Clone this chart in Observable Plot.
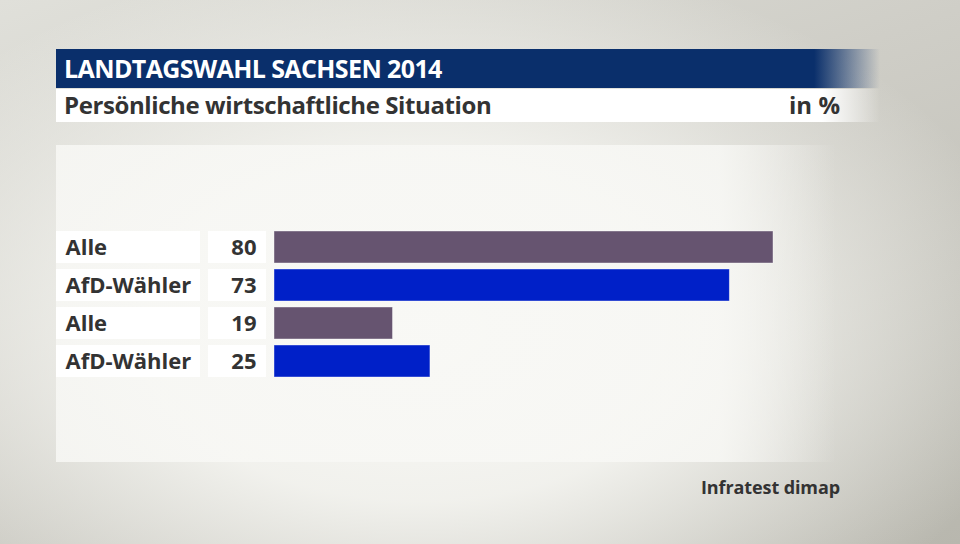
<!DOCTYPE html>
<html><head><meta charset="utf-8">
<script src="https://cdn.jsdelivr.net/npm/d3@7"></script>
<script src="https://cdn.jsdelivr.net/npm/@observablehq/plot@0.6"></script>
<style>
html,body{margin:0;padding:0;}
body{width:960px;height:544px;overflow:hidden;position:relative;font-family:"Open Sans",sans-serif;
background:
 radial-gradient(ellipse 620px 380px at 420px 330px, rgba(250,250,247,1) 0%, rgba(246,246,242,0.9) 45%, rgba(230,230,224,0) 100%),
 linear-gradient(160deg,#e0e0da 0%,#cfcec7 40%,#b8b7ae 100%);}
#panel{position:absolute;left:56px;top:145px;width:780px;height:317px;
background:linear-gradient(90deg,rgba(248,248,245,0.85) 0%,rgba(248,248,245,0.85) 85%,rgba(248,248,245,0) 100%);}
#titlebar{position:absolute;left:56px;top:49px;width:824px;height:39px;
background:linear-gradient(90deg,#0a2f6b 0%,#0a2f6b 92%,rgba(10,47,107,0) 100%);}
#title{position:absolute;left:64px;top:51px;color:#fff;font-weight:700;font-size:25px;letter-spacing:-0.6px;line-height:34px;}
#subbar{position:absolute;left:56px;top:89px;width:824px;height:33px;
background:linear-gradient(90deg,#fff 0%,#fff 93%,rgba(255,255,255,0) 100%);}
#sub{position:absolute;left:64px;top:88px;color:#333;font-weight:700;font-size:24px;letter-spacing:-0.4px;line-height:33px;}
#unit{position:absolute;right:120px;top:88px;color:#333;font-weight:700;font-size:24px;line-height:33px;}
#caption{position:absolute;right:120px;top:475px;color:#333;font-weight:700;font-size:18px;letter-spacing:-0.1px;}
#chart{position:absolute;left:0;top:0;}
</style></head>
<body>
<div id="panel"></div>
<div id="titlebar"></div><div id="title">LANDTAGSWAHL SACHSEN 2014</div>
<div id="subbar"></div><div id="sub">Persönliche wirtschaftliche Situation</div><div id="unit">in %</div>
<div id="caption">Infratest dimap</div>
<div id="chart"></div>
<script>
const labels = ["Alle", "AfD-Wähler", "Alle", "AfD-Wähler"];
const values = [80, 73, 19, 25];
const colors = ["#665470", "#0020c8", "#665470", "#0020c8"];

const data = labels.map((l, i) => ({row: i, label: l, value: values[i], color: colors[i]}));

const pxPerUnit = 499 / 80;
const xMin = -(274 - 56) / pxPerUnit;

const chart = Plot.plot({
  width: 960, height: 544,
  marginLeft: 56, marginRight: 187, marginTop: 0, marginBottom: 0,
  style: {background: "transparent", overflow: "visible"},
  x: {domain: [xMin, 80], axis: null},
  y: {domain: [0, 1, 2, 3], range: [222.8, 384.2], padding: 0.16, axis: null},
  marks: [
    Plot.rect(data, {y: "row", fill: "white", insetRight: 773 - 200}),
    Plot.rect(data, {y: "row", fill: "white", insetLeft: 208 - 56, insetRight: 773 - 266}),
    Plot.barX(data, {x1: 0, x2: "value", y: "row", fill: "color", stroke: "rgba(255,255,255,0.5)", strokeWidth: 0.8}),
    Plot.text(data, {y: "row", text: "label", frameAnchor: "left", dx: 9, textAnchor: "start",
      fontSize: 22, fontWeight: 700, fill: "#333", fontFamily: "Open Sans"}),
    Plot.text(data, {y: "row", text: d => String(d.value), frameAnchor: "left", dx: 200, textAnchor: "end",
      fontSize: 22, fontWeight: 700, fill: "#333", fontFamily: "Open Sans"})
  ]
});
document.getElementById("chart").appendChild(chart);
</script>
</body></html>
